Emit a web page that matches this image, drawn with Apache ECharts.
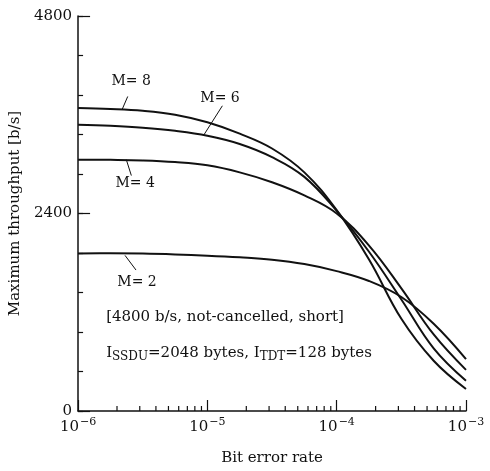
<!DOCTYPE html>
<html>
<head>
<meta charset="utf-8">
<script src="https://cdn.jsdelivr.net/npm/echarts@6/dist/echarts.min.js"></script>
<style>html,body{margin:0;padding:0;background:#fff}#c{width:490px;height:471px}</style>
</head>
<body>
<div id="c"></div>
<script>
// Bit error rate exponents (log10), evenly spaced quarter decades
const berExp = [-6, -5.75, -5.5, -5.25, -5, -4.75, -4.5, -4.25, -4, -3.75, -3.5, -3.25, -3];
// Maximum throughput [b/s]
const m8 = [3681, 3670, 3648, 3600, 3508, 3370, 3190, 2900, 2440, 1840, 1120, 610, 267];
const m6 = [3479, 3466, 3443, 3405, 3345, 3245, 3085, 2845, 2432, 1935, 1355, 760, 367];
const m4 = [3054, 3052, 3045, 3025, 2985, 2900, 2780, 2620, 2400, 2010, 1490, 930, 500];
const m2 = [1915, 1916, 1913, 1903, 1888, 1867, 1838, 1785, 1700, 1580, 1385, 1060, 630];
const yTickLabels = [0, 2400, 4800];
const decades = [1e-6, 1e-5, 1e-4];
const minorMult = [2, 3, 4, 5, 6, 7, 8, 9];

const FONT = 'DejaVu Serif';
const minorX = [];
decades.forEach(d => minorMult.forEach(k => minorX.push(d * k)));
const chart = echarts.init(document.getElementById('c'));
const pair = arr => arr.map((v, i) => [Math.pow(10, berExp[i]), v]);
const lineSeries = (name, arr) => ({
  name, type: 'line', data: pair(arr), smooth: 0.4, showSymbol: false,
  lineStyle: { color: '#111', width: 2 }, xAxisIndex: 0, yAxisIndex: 0, z: 3
});

chart.setOption({
  animation: false,
  backgroundColor: '#fff',
  grid: { left: 78, right: 24, top: 16, bottom: 59, containLabel: false },
  xAxis: [{
    type: 'log', logBase: 10, min: 1e-6, max: 1e-3,
    name: 'Bit error rate', nameLocation: 'middle', nameGap: 40,
    nameTextStyle: { fontFamily: FONT, fontSize: 15, color: '#111' },
    axisLine: { lineStyle: { color: '#111', width: 1.5 } },
    axisTick: { inside: true, length: 11, lineStyle: { color: '#111', width: 1.2 } },
    splitLine: { show: false },
    axisLabel: {
      margin: 6, color: '#111',
      formatter: v => '{b|10}{s|−' + Math.abs(Math.round(Math.log10(v))) + '}',
      rich: {
        b: { fontFamily: FONT, fontSize: 15, color: '#111' },
        s: { fontFamily: FONT, fontSize: 11, color: '#111', padding: [0, 0, 9, 1] }
      }
    }
  }],
  yAxis: [{
    type: 'value', min: 0, max: 4800, interval: 480,
    name: 'Maximum throughput [b/s]', nameLocation: 'middle', nameGap: 52,
    nameTextStyle: { fontFamily: FONT, fontSize: 15, color: '#111' },
    axisLine: { show: true, lineStyle: { color: '#111', width: 1.5 } },
    axisTick: { show: true, inside: true, length: 5, lineStyle: { color: '#111', width: 1.2 } },
    splitLine: { show: false },
    axisLabel: {
      margin: 6, fontFamily: FONT, fontSize: 15, color: '#111',
      formatter: v => yTickLabels.indexOf(v) >= 0 ? String(v) : ''
    }
  }, {
    type: 'value', min: 0, max: 4800, interval: 2400, position: 'left', offset: 0,
    axisLine: { show: false },
    axisTick: { show: true, inside: true, length: 12, lineStyle: { color: '#111', width: 1.2 } },
    axisLabel: { show: false }, splitLine: { show: false }
  }],
  series: [
    lineSeries('M=8', m8), lineSeries('M=6', m6), lineSeries('M=4', m4), lineSeries('M=2', m2),
    {
      type: 'custom', name: 'minor ticks', data: minorX.map(v => [v, 0]), clip: false, z: 4,
      renderItem: (params, api) => {
        const p = api.coord([api.value(0), 0]);
        return { type: 'line', shape: { x1: p[0], y1: p[1], x2: p[0], y2: p[1] - 5 },
                 style: { stroke: '#111', lineWidth: 1.2 } };
      }
    }
  ]
});

// Annotations, positioned in data coordinates
const px = (x, y) => chart.convertToPixel({ xAxisIndex: 0, yAxisIndex: 0 }, [x, y]);
const P = (lg, y) => px(Math.pow(10, lg), y);
const labels = [
  { t: 'M= 8', at: P(-5.590, 4000), l1: P(-5.616, 3822), l2: P(-5.658, 3669) },
  { t: 'M= 6', at: P(-4.902, 3794), l1: P(-4.884, 3709), l2: P(-5.026, 3358) },
  { t: 'M= 4', at: P(-5.559, 2764), l1: P(-5.588, 2861), l2: P(-5.627, 3055) },
  { t: 'M= 2', at: P(-5.544, 1564), l1: P(-5.552, 1713), l2: P(-5.637, 1891) }
];
const g = [];
labels.forEach(a => {
  g.push({ type: 'text', x: a.at[0], y: a.at[1], style: { text: a.t, font: '14px "' + FONT + '"', fill: '#111', textAlign: 'center', textVerticalAlign: 'middle' } });
  g.push({ type: 'line', shape: { x1: a.l1[0], y1: a.l1[1], x2: a.l2[0], y2: a.l2[1] }, style: { stroke: '#111', lineWidth: 1 } });
});
const t1 = P(-5.783, 1139);
const t2 = P(-5.783, 703);
g.push({ type: 'text', x: t1[0], y: t1[1], style: { text: '[4800 b/s, not-cancelled, short]', font: '15px "' + FONT + '"', fill: '#111', textVerticalAlign: 'middle' } });
g.push({ type: 'text', x: t2[0], y: t2[1], style: {
  text: 'I{sub|SSDU}=2048 bytes, I{sub|TDT}=128 bytes',
  rich: { sub: { font: '12px "' + FONT + '"', fill: '#111', padding: [7, 0, 0, 0] } },
  font: '15px "' + FONT + '"', fill: '#111', textVerticalAlign: 'middle' } });
chart.setOption({ graphic: g });
</script>
</body>
</html>
